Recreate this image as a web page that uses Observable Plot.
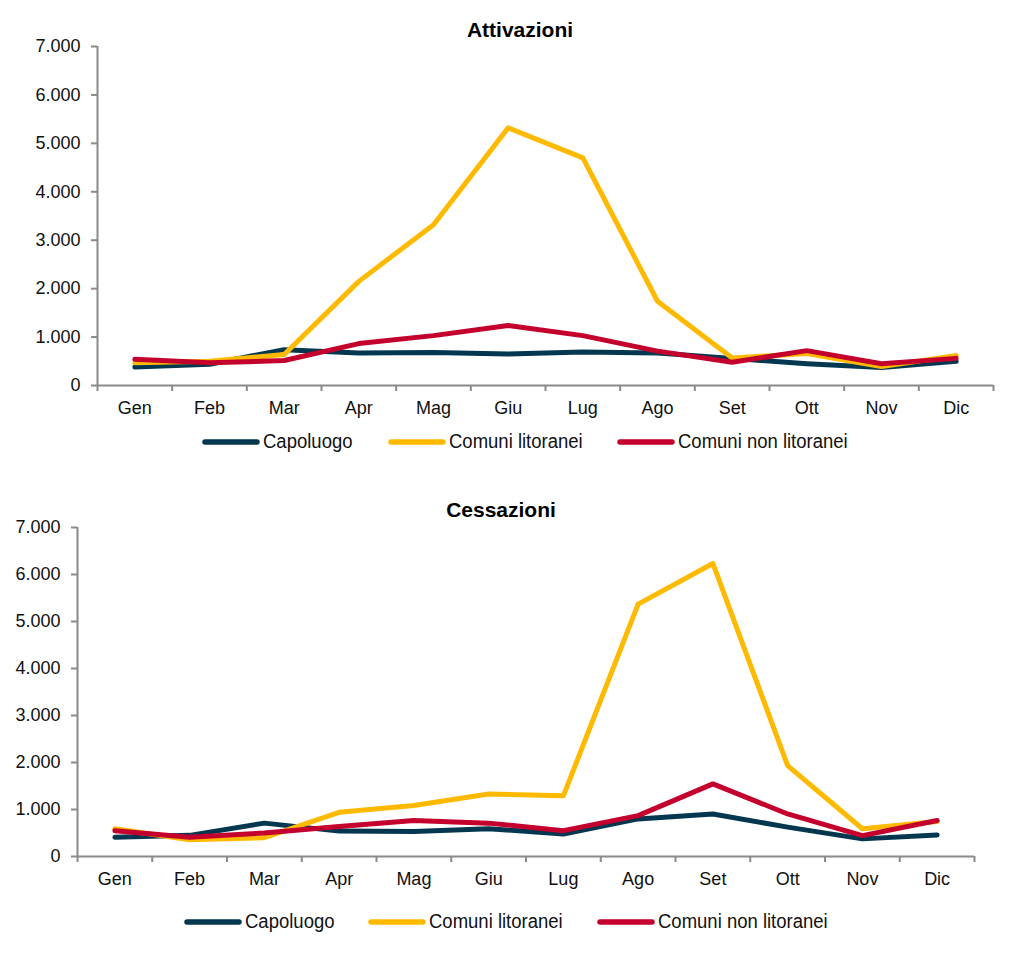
<!DOCTYPE html>
<html>
<head>
<meta charset="utf-8">
<script src="https://cdn.jsdelivr.net/npm/d3@7"></script>
<script src="https://cdn.jsdelivr.net/npm/@observablehq/plot@0.6"></script>
<style>
  html, body { margin: 0; padding: 0; background: #fff; }
  #root { position: relative; width: 1034px; height: 954px; background: #fff; font-family: "Liberation Sans", Arial, sans-serif; }
  .chart { position: absolute; left: 0; }
  .title { position: absolute; width: 400px; text-align: center; font: bold 21px "Liberation Sans", Arial, sans-serif; line-height: 21px; color: #000; }
  .item { position: absolute; display: flex; align-items: center; height: 24px; font-family: "Liberation Sans", Arial, sans-serif; font-size: 20px; color: #111; white-space: nowrap; }
  .item svg { margin-right: 3px; flex: none; }
  .item span { display: inline-block; transform: scaleX(0.925); transform-origin: left center; }
</style>
</head>
<body>
<div id="root">
  <div class="title" style="left:320px; top:19px;">Attivazioni</div>
  <div class="chart" id="c1" style="top:0px;"></div>
  <div class="title" style="left:301px; top:499px;">Cessazioni</div>
  <div class="chart" id="c2" style="top:480px;"></div>
</div>
<script>
const months = ["Gen","Feb","Mar","Apr","Mag","Giu","Lug","Ago","Set","Ott","Nov","Dic"];
const series = ["Capoluogo","Comuni litoranei","Comuni non litoranei"];
const colors = ["#033750","#FFBA00","#C4002D"];
const yTicks = [0,1000,2000,3000,4000,5000,6000,7000];

// Attivazioni
const attCapoluogo = [380, 440, 740, 670, 680, 650, 690, 670, 560, 450, 370, 500];
const attLitoranei = [470, 500, 640, 2150, 3320, 5320, 4700, 1740, 570, 660, 390, 620];
const attNonLitoranei = [540, 470, 515, 865, 1030, 1240, 1030, 710, 480, 720, 450, 560];

// Cessazioni
const cesCapoluogo = [410, 450, 710, 540, 530, 590, 480, 800, 905, 625, 375, 460];
const cesLitoranei = [590, 355, 400, 940, 1085, 1330, 1290, 5370, 6235, 1935, 590, 745];
const cesNonLitoranei = [550, 410, 500, 640, 765, 710, 550, 870, 1545, 905, 445, 765];

const fmt = d3.formatLocale({decimal: ",", thousands: ".", grouping: [3], currency: ["", "€"]}).format(",");

function toRows(arrs) {
  const rows = [];
  arrs.forEach((arr, s) => arr.forEach((v, i) => rows.push({series: series[s], month: months[i], value: v})));
  return rows;
}

function chart(rows, o) {
  const boundaries = d3.range(13).map(i => i - 0.5);
  return Plot.plot({
    width: 1034, height: o.height,
    marginLeft: o.left, marginRight: o.right, marginTop: o.top, marginBottom: o.bottom,
    style: {fontFamily: '"Liberation Sans", Arial, sans-serif', fontSize: "18px", color: "#000", background: "transparent", overflow: "visible"},
    x: {domain: [-0.5, 11.5], axis: null},
    y: {domain: [0, 7000], axis: null},
    color: {domain: series, range: colors},
    marks: [
      Plot.axisY({ticks: yTicks, tickSize: 6, tickPadding: 11, tickFormat: fmt, stroke: "#8a8a8a", fill: "#111", label: null, strokeWidth: 2, fontSize: 18}),
      Plot.axisX({ticks: boundaries, tickSize: 6, tickFormat: () => "", stroke: "#8a8a8a", strokeWidth: 2, label: null}),
      Plot.axisX({ticks: d3.range(12), tickSize: 0, tickPadding: 16, tickFormat: i => months[i], fill: "#111", label: null, fontSize: 18}),
      Plot.ruleX([-0.5], {stroke: "#8a8a8a", strokeWidth: 2}),
      Plot.ruleY([0], {stroke: "#8a8a8a", strokeWidth: 2}),
      Plot.line(rows, {x: d => months.indexOf(d.month), y: "value", z: "series", stroke: "series", strokeWidth: 5, strokeLinejoin: "round", strokeLinecap: "round"})
    ]
  });
}

document.getElementById("c1").appendChild(chart(toRows([attCapoluogo, attLitoranei, attNonLitoranei]), {height: 420, left: 97, right: 41, top: 46, bottom: 35}));
document.getElementById("c2").appendChild(chart(toRows([cesCapoluogo, cesLitoranei, cesNonLitoranei]), {height: 410, left: 77, right: 60, top: 47, bottom: 34}));

function legend(xs, centerY) {
  const root = document.getElementById("root");
  series.forEach((s, i) => {
    const item = document.createElement("div");
    item.className = "item";
    item.style.left = xs[i] + "px";
    item.style.top = (centerY - 12) + "px";
    item.innerHTML = `<svg width="58" height="8"><line x1="3" y1="4" x2="55" y2="4" stroke="${colors[i]}" stroke-width="5.5" stroke-linecap="round"/></svg><span>${s}</span>`;
    root.appendChild(item);
  });
}
legend([202, 388, 617], 441.7);
legend([184, 368, 597], 921.7);
</script>
</body>
</html>
